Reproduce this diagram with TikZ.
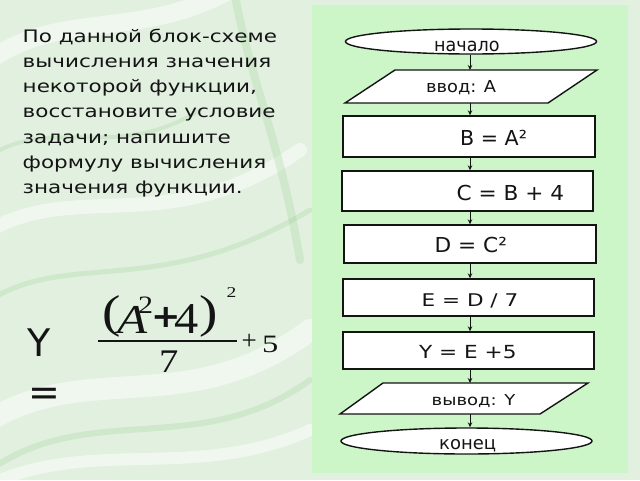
\documentclass[tikz,border=0pt]{standalone}
\usepackage{fontspec}
\setmainfont{DejaVu Sans}
\newfontfamily\tms{Liberation Serif}
\newfontfamily\widefont[FakeStretch=1.25]{DejaVu Sans}
\usetikzlibrary{arrows.meta,shapes.geometric}
\definecolor{bgc}{RGB}{226,240,224}
\definecolor{panel}{RGB}{204,246,200}
\definecolor{streakg}{RGB}{160,208,150}
\definecolor{ink}{RGB}{20,20,20}
\tikzset{
  shp/.style={draw=ink, line width=1.4pt, fill=white, inner sep=0pt},
  boxr/.style={shp, rectangle, minimum width=251pt},
  term/.style={shp, ellipse, minimum width=251pt, minimum height=25pt},
  arr/.style={draw=ink, line width=0.9pt, -{Stealth[length=5pt,width=4.5pt]}},
  lbl/.style={inner sep=0pt, anchor=base west, text=ink},
  tx/.style 2 args={lbl, font={\addfontfeatures{FakeStretch=#2}\fontsize{#1}{#1}\selectfont}},
  ser/.style 2 args={lbl, font={\tms\addfontfeatures{FakeStretch=#2}\fontsize{#1}{#1}\selectfont}},
  wstreak/.style={white, opacity=.5, line cap=round},
  gstreak/.style={streakg, opacity=.28, line cap=round}
}
\begin{document}
\begin{tikzpicture}[x=1pt,y=-1pt]
\useasboundingbox (0,0) rectangle (640,480);
% background (marbled look)
\fill[bgc] (0,0) rectangle (640,480);
\draw[wstreak, line width=18pt] (-10,60) .. controls (60,10) and (140,40) .. (230,-10);
\draw[wstreak, line width=14pt] (-10,230) .. controls (80,180) and (170,240) .. (300,150);
\draw[wstreak, line width=22pt] (-10,420) .. controls (90,360) and (190,420) .. (310,330);
\draw[wstreak, line width=12pt] (0,480) .. controls (100,440) and (200,480) .. (310,430);
\draw[gstreak, line width=8pt] (235,-5) .. controls (250,80) and (280,140) .. (300,260);
\draw[gstreak, line width=5pt] (-10,300) .. controls (70,250) and (160,300) .. (310,210);
\draw[gstreak, line width=6pt] (-10,470) .. controls (90,400) and (200,460) .. (310,380);
\draw[gstreak, line width=4pt] (0,150) .. controls (60,120) and (120,160) .. (200,110);
\fill[panel] (312,5) rectangle (628,473);

% axis of connectors
\coordinate (ax) at (470,0);

% flowchart shapes
\node[term] (start) at (471,41.5) {};
\node[tx={18.5}{0.95}] (tstart) at (434,51) {начало};

\coordinate (in1t) at (470,70);
\coordinate (in1b) at (470,103);
\draw[shp] (395,70) -- (597,70) -- (548,103) -- (345,103) -- cycle;
\node[tx={16.5}{1.08}] (tin) at (426,92) {ввод: А};

\node[boxr, minimum width=252pt, minimum height=41pt] (b1) at (469,136.5) {};
\node[tx={20.6}{1.0}] (tb1) at (460,145) {B = A²};

\node[boxr, minimum height=40pt] (b2) at (467.5,191) {};
\node[tx={20.6}{1.05}] (tb2) at (456.5,200) {C = B + 4};

\node[boxr, minimum width=252pt, minimum height=38pt] (b3) at (470,244) {};
\node[tx={20.6}{1.05}] (tb3) at (434.5,252) {D = C²};

\node[boxr, minimum height=37pt] (b4) at (468.5,297.5) {};
\node[tx={17.5}{1.23}] (tb4) at (421.5,306.5) {E = D / 7};

\node[boxr, minimum height=37pt] (b5) at (468.5,350.5) {};
\node[tx={18}{1.2}] (tb5) at (419,358) {Y = E +5};

\coordinate (outt) at (470,383);
\coordinate (outb) at (470,414);
\draw[shp] (383,383) -- (588,383) -- (540,414) -- (340,414) -- cycle;
\node[tx={15}{1.2}] (tout) at (431.5,405.5) {вывод: Y};

\node[term, minimum height=26pt] (end) at (466.5,441) {};
\node[tx={18}{1.0}] (tend) at (439,449.3) {конец};

% connectors
\draw[arr] (start.south -| ax) -- (in1t);
\draw[arr] (in1b) -- (b1.north -| ax);
\draw[arr] (b1.south -| ax) -- (b2.north -| ax);
\draw[arr] (b2.south -| ax) -- (b3.north -| ax);
\draw[arr] (b3.south -| ax) -- (b4.north -| ax);
\draw[arr] (b4.south -| ax) -- (b5.north -| ax);
\draw[arr] (b5.south -| ax) -- (outt);
\draw[arr] (outb) -- (end.north -| ax);

% task text
\node[lbl, align=left,
      font={\widefont\fontsize{17.2}{25.3}\selectfont}] (task) at (22.5,193.8)
  {По данной блок-схеме\\вычисления значения\\некоторой функции,\\восстановите условие\\задачи; напишите\\формулу вычисления\\значения функции.};

% formula
\node[tx={38}{1.0}] (fy) at (27,356) {Y};
\node[tx={38}{1.0}] (feq) at (28,405) {=};
\node[ser={46}{1.2}] (lpar) at (102,327) {(};
\node[ser={41}{1.2}] (fa) at (117,333) {\itshape A};
\node[ser={25}{1.2}] (fa2) at (138,313) {2};
\node[tx={32}{1.1}] (fplus) at (151,327.5) {\bfseries +};
\node[ser={44}{1.1}] (f4) at (174,333) {4};
\node[ser={46}{1.2}] (rpar) at (199,327) {)};
\node[ser={15}{1.3}] (fsq) at (226.5,297) {2};
\coordinate (barl) at (98,341);
\coordinate (barr) at (237,341);
\draw[ink, line width=1.1pt] (barl) -- (barr);
\node[ser={33}{1.17}] (f7) at (159,372) {7};
\node[ser={27}{1.0}] (fp5) at (241.5,349) {+};
\node[ser={25}{1.3}] (f5) at (262,352) {5};
\end{tikzpicture}
\end{document}
